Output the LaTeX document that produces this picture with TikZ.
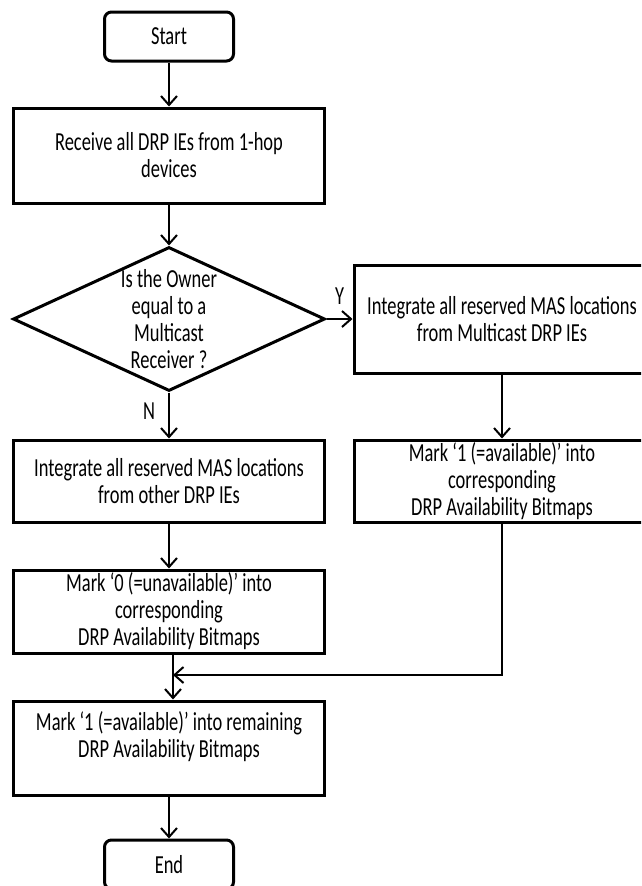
\documentclass[tikz,border=0pt]{standalone}
\usepackage{fontspec}
\setmainfont{Carlito}[FakeStretch=0.71]
\usetikzlibrary{positioning,shapes.geometric,arrows.meta}
\begin{document}
\begin{tikzpicture}
[x=1pt, y=1pt, node distance=1cm, font=\fontsize{26}{27}\selectfont]
\tikzstyle{term}=[draw, line width=3pt, rounded corners=7pt, minimum width=129pt, minimum height=49pt, inner sep=0pt]
\tikzstyle{proc}=[draw, line width=3pt, minimum width=311pt, inner sep=0pt, align=center]
\tikzstyle{decision}=[diamond, draw, line width=3pt, aspect=2.17, minimum width=312pt, minimum height=144pt, inner sep=0pt]
\tikzstyle{arr}=[line width=2pt, -{Straight Barb[length=9pt, width=16pt]}]
\tikzstyle{tag}=[inner sep=0pt]

\clip (0,0) rectangle (641,-886);

\node[term]	(start)	at (169,-36.5)	{Start};
\node[proc, minimum height=95pt]	(recv)	[below of=start, node distance=119pt]	{Receive all DRP IEs from 1-hop\\devices};
\node[decision]	(owner)	[below of=recv, node distance=163.5pt, label={[align=center]center:{Is the Owner\\equal to a\\Multicast\\Receiver ?}}]	{};
\node[proc, minimum height=82pt]	(other)	[below of=owner, node distance=162pt]	{Integrate all reserved MAS locations\\from other DRP IEs};
\node[proc, minimum height=83pt]	(mark0)	[below of=other, node distance=130.5pt]	{Mark `0 (=unavailable)' into\\corresponding\\DRP Availability Bitmaps};
\node[proc, minimum height=94pt]	(remain)	[below of=mark0, node distance=136.5pt]	{Mark `1 (=available)' into remaining\\DRP Availability Bitmaps\\~};
\node[term]	(end)	[below of=remain, node distance=116.5pt]	{End};
\node[proc, minimum width=296pt, minimum height=108pt]	(mcast)	[right of=owner, node distance=333pt]	{Integrate all reserved MAS locations\\from Multicast DRP IEs};
\node[proc, minimum width=296pt, minimum height=82pt]	(mark1)	[below of=mcast, node distance=162pt]	{Mark `1 (=available)' into\\corresponding\\DRP Availability Bitmaps};
\coordinate (merge) at (173,-675);

\draw [arr] (start)--(recv);
\draw [arr] (recv)--(owner);
\draw [arr] (owner.east)--node[tag, above=14pt]{Y}(mcast);
\draw [arr] (owner)--node[tag, left=13pt, pos=0.4]{N}(other);
\draw [arr] (other)--(mark0);
\draw [arr] (mcast)--(mark1);
\draw [arr] (mark1.south) |- (merge);
\draw [arr] ([xshift=4pt]mark0.south)--([xshift=4pt]remain.north);
\draw [arr] (remain)--(end);
\end{tikzpicture}
\end{document}
